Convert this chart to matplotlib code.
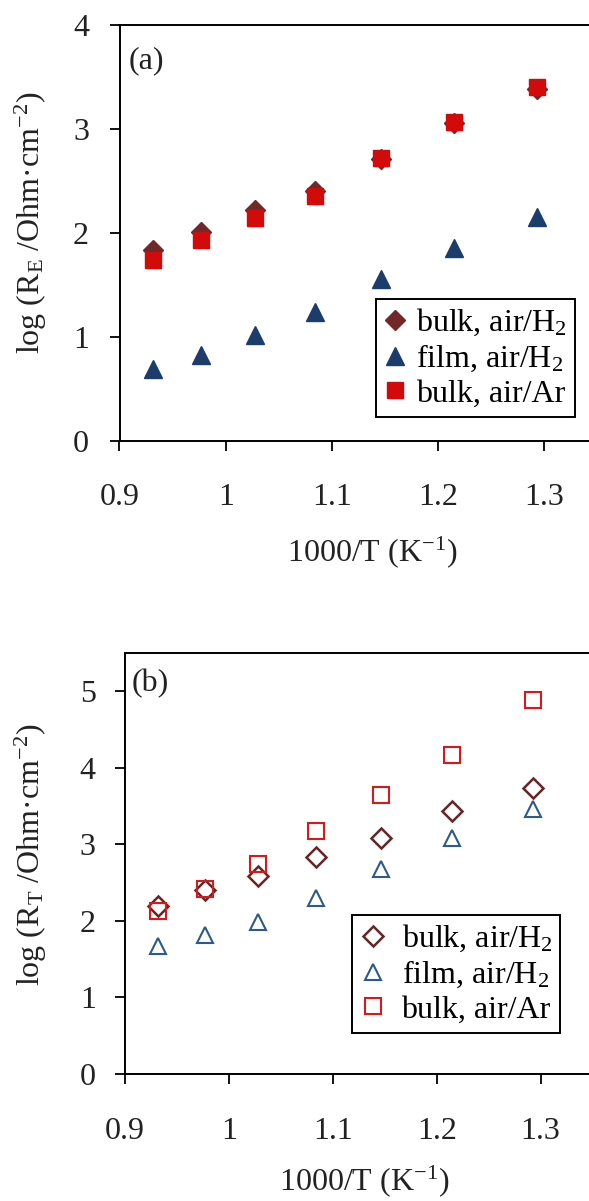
import matplotlib
matplotlib.use('Agg')
import matplotlib.pyplot as plt

plt.rcParams['font.family'] = ['Liberation Serif', 'DejaVu Serif']
plt.rcParams['mathtext.fontset'] = 'custom'
plt.rcParams['mathtext.rm'] = 'Liberation Serif'
plt.rcParams['mathtext.it'] = 'Liberation Serif:italic'

# data
inv_t = [0.932, 0.977, 1.028, 1.084, 1.146, 1.215, 1.293]

# (a) log R_E
re_bulk_h2 = [1.84, 2.01, 2.22, 2.40, 2.71, 3.06, 3.38]
re_film_h2 = [0.69, 0.83, 1.02, 1.24, 1.56, 1.86, 2.15]
re_bulk_ar = [1.74, 1.93, 2.14, 2.36, 2.72, 3.07, 3.40]

# (b) log R_T
rt_bulk_h2 = [2.20, 2.40, 2.59, 2.83, 3.08, 3.43, 3.73]
rt_film_h2 = [1.67, 1.82, 1.99, 2.30, 2.68, 3.08, 3.46]
rt_bulk_ar = [2.13, 2.42, 2.75, 3.17, 3.64, 4.17, 4.89]

labels = ['bulk, air/H$_\\mathregular{2}$', 'film, air/H$_\\mathregular{2}$', 'bulk, air/Ar']

W, H = 589, 1201
fig = plt.figure(figsize=(W / 100, H / 100), dpi=100)

def px_axes(left, right, top, bottom):
    return fig.add_axes([left / W, (H - bottom) / H, (right - left) / W, (bottom - top) / H])

txt = '#222222'
fs = 23

def style(ax, ymax, yticks, xpad, ypad):
    ax.set_xlim(0.9, 1.4)
    ax.set_ylim(0, ymax)
    ax.set_xticks([0.9, 1.0, 1.1, 1.2, 1.3])
    ax.set_xticklabels(['0.9', '1', '1.1', '1.2', '1.3'])
    ax.set_yticks(yticks)
    for s in ax.spines.values():
        s.set_linewidth(1.4)
        s.set_color('black')
    ax.spines['right'].set_visible(False)
    ax.tick_params(direction='out', length=7, width=1.3, labelsize=fs, labelcolor=txt)
    ax.tick_params(axis='x', pad=xpad)
    ax.tick_params(axis='y', pad=ypad)

# ---- panel (a)
ax1 = px_axes(119.5, 650.5, 25, 441)
ax1.plot(inv_t, re_bulk_h2, 'D', ms=10, color='#722828', label=labels[0], zorder=3)
ax1.plot(inv_t, re_film_h2, '^', ms=12.5, color='#1c3c6c', label=labels[1], zorder=3)
ax1.plot(inv_t, re_bulk_ar, 's', ms=12, color='#d20a0a', label=labels[2], zorder=4)
style(ax1, 4, [0, 1, 2, 3, 4], 23, 15)
ax1.set_xlabel('1000/T (K$^{\\mathregular{-1}}$)', fontsize=fs, color=txt)
ax1.xaxis.set_label_coords((372 - 119.5) / 531, -(534 - 441) / 416)
ax1.set_ylabel('log (R$_\\mathregular{E}$ /Ohm·cm$^{\\mathregular{-2}}$)', fontsize=fs, color=txt)
ax1.yaxis.set_label_coords(-(119.5 - 49) / 531, 0.525)
ax1.text(129 / W, (H - 61) / H, '(a)', transform=fig.transFigure, fontsize=fs, color=txt, va='center')
leg1 = ax1.legend(loc='upper left', bbox_to_anchor=(376 / W, (H - 299) / H), bbox_transform=fig.transFigure,
                  borderaxespad=0, fancybox=False, edgecolor='black', fontsize=fs, labelspacing=0.15,
                  handlelength=0.7, handletextpad=0.3, borderpad=0.25, framealpha=1)
leg1.get_frame().set_linewidth(1.4)

# ---- panel (b)
ax2 = px_axes(125, 644.5, 653, 1074)
ax2.plot(inv_t, rt_bulk_h2, 'D', ms=10, mfc='none', mec='#6a2424', mew=1.8, label=labels[0], zorder=3)
ax2.plot(inv_t, rt_film_h2, '^', ms=12, mfc='none', mec='#2d5a8e', mew=1.5, label=labels[1], zorder=3)
ax2.plot(inv_t, rt_bulk_ar, 's', ms=11, mfc='none', mec='#d61a1a', mew=1.5, label=labels[2], zorder=4)
style(ax2, 5.5, [0, 1, 2, 3, 4, 5], 24, 14)
ax2.set_xlabel('1000/T (K$^{\\mathregular{-1}}$)', fontsize=fs, color=txt)
ax2.xaxis.set_label_coords((364 - 125) / 519.5, -(1163 - 1074) / 421)
ax2.set_ylabel('log (R$_\\mathregular{T}$ /Ohm·cm$^{\\mathregular{-2}}$)', fontsize=fs, color=txt)
ax2.yaxis.set_label_coords(-(125 - 49) / 519.5, 0.521)
ax2.text(132 / W, (H - 684) / H, '(b)', transform=fig.transFigure, fontsize=fs, color=txt, va='center')
leg2 = ax2.legend(loc='upper left', bbox_to_anchor=(352 / W, (H - 915) / H), bbox_transform=fig.transFigure,
                  borderaxespad=0, fancybox=False, edgecolor='black', fontsize=fs, labelspacing=0.15,
                  handlelength=0.8, handletextpad=0.5, borderpad=0.25, framealpha=1)
leg2.get_frame().set_linewidth(1.4)

fig.savefig('out.png', dpi=100)
